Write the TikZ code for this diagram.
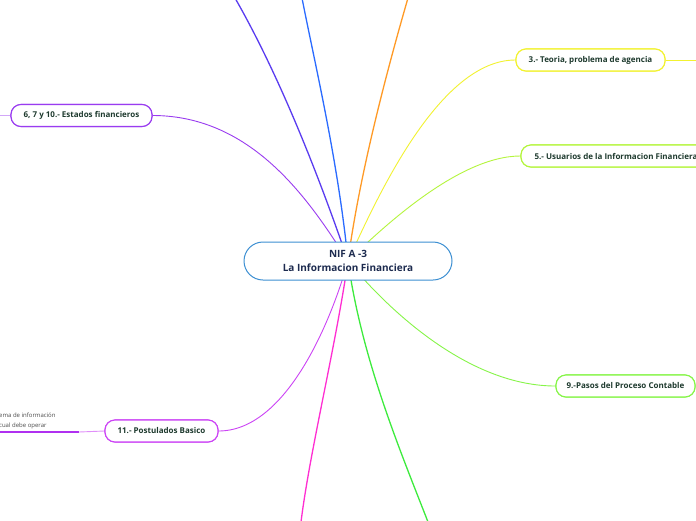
\documentclass[tikz,border=0pt]{standalone}
\usepackage{fontspec}
\setmainfont{Open Sans}
\usetikzlibrary{calc}
\definecolor{cviolet}{HTML}{5A3CF0}
\definecolor{cblue}{HTML}{2A6BFF}
\definecolor{corange}{HTML}{FF9A26}
\definecolor{cyellow}{HTML}{F2F230}
\definecolor{cyg}{HTML}{B4F53C}
\definecolor{cgreen}{HTML}{86F548}
\definecolor{cpurple}{HTML}{9A3CF0}
\definecolor{cmag}{HTML}{CC44F5}
\definecolor{cdeep}{HTML}{B030F0}
\definecolor{cpink}{HTML}{FF2ED2}
\definecolor{cbgreen}{HTML}{3DEB3D}
\definecolor{ctext}{HTML}{1E3A2E}
\definecolor{cnavy}{HTML}{1D2B4F}
\definecolor{ccenter}{HTML}{3C8FD2}
\begin{document}
\begin{tikzpicture}[x=1pt,y=-1pt,
  branch/.style={draw, line width=1.1pt, fill=white, rounded corners=10pt,
    minimum height=22pt, inner sep=0pt, text=ctext, font=\fontsize{8}{9}\selectfont\bfseries},
  conn/.style={line width=0.9pt},
  topline/.style={line width=1.3pt}]
\useasboundingbox (0,0) rectangle (696,520);
\fill[white] (0,0) rectangle (696,520);
\coordinate (cc) at (348,261);
\coordinate (t1) at (235,-2);
\coordinate (t2) at (302,-2);
\coordinate (t3) at (408,-2);
\coordinate (b1) at (301,522);
\coordinate (b2) at (428,522);
\coordinate (l6) at (-2,115.5);
\coordinate (r3) at (698,60);
\coordinate (l11a) at (79,432);
\coordinate (l11b) at (0,432);

\node[branch, draw=cpurple, minimum width=141pt] (n6) at (81.5,115.5) {6, 7 y 10.- Estados financieros};
\node[branch, draw=cyellow, minimum width=149pt] (n3) at (590.5,60) {3.- Teoria, problema de agencia};
\node[branch, draw=cyg, minimum width=190pt] (n5) at (616,156) {5.- Usuarios de la Informacion Financiera};
\node[branch, draw=cgreen, minimum width=139pt] (n9) at (625.5,386) {9.-Pasos del Proceso Contable};
\node[branch, draw=cmag, minimum width=113pt] (n11) at (161.5,431) {11.- Postulados Basico};

% connectors
\draw[topline, cviolet] (cc) .. controls (322,185) and (282,80) .. (t1);
\draw[topline, cblue] (cc) .. controls (338,160) and (314,60) .. (t2);
\draw[topline, corange] (cc) .. controls (360,170) and (390,60) .. (t3);
\draw[conn, cpurple] (cc) .. controls (312,205) and (255,115.5) .. (n6.east);
\draw[conn, cyellow] (cc) .. controls (378,195) and (440,60) .. (n3.west);
\draw[conn, cyg] (cc) .. controls (385,225) and (460,156) .. (n5.west);
\draw[conn, cgreen] (cc) .. controls (390,312) and (470,386) .. (n9.west);
\draw[conn, cmag] (cc) .. controls (330,325) and (285,431) .. (n11.east);
\draw[topline, cpink] (cc) .. controls (335,350) and (310,450) .. (b1);
\draw[topline, cbgreen] (cc) .. controls (362,360) and (400,450) .. (b2);
\draw[conn, cpurple!45] (n6.west) -- (l6);
\draw[conn, cyellow] (n3.east) -- (r3);
\draw[conn, cmag!60] (n11.west) -- (l11a);

% redraw nodes on top
\node[branch, draw=cpurple, minimum width=141pt] at (n6) {6, 7 y 10.- Estados financieros};
\node[branch, draw=cyellow, minimum width=149pt] at (n3) {3.- Teoria, problema de agencia};
\node[branch, draw=cyg, minimum width=190pt] at (n5) {5.- Usuarios de la Informacion Financiera};
\node[branch, draw=cgreen, minimum width=139pt] at (n9) {9.-Pasos del Proceso Contable};
\node[branch, draw=cmag, minimum width=113pt] at (n11) {11.- Postulados Basico};

\node[draw=ccenter, line width=1pt, fill=white, rounded corners=19pt,
  minimum width=208pt, minimum height=38pt, inner sep=0pt, align=center,
  text=cnavy, font=\fontsize{10}{13.5}\selectfont\bfseries] (c) at (cc) {NIF A -3\\La Informacion Financiera};

\node[anchor=west, inner sep=0pt, text=black!70, font=\fontsize{6}{10}\selectfont, align=left] (s1) at (-1,420.5) {ema de información\\cual debe operar};
\draw[line width=2pt, cdeep] (l11a) -- (l11b);
\end{tikzpicture}
\end{document}
